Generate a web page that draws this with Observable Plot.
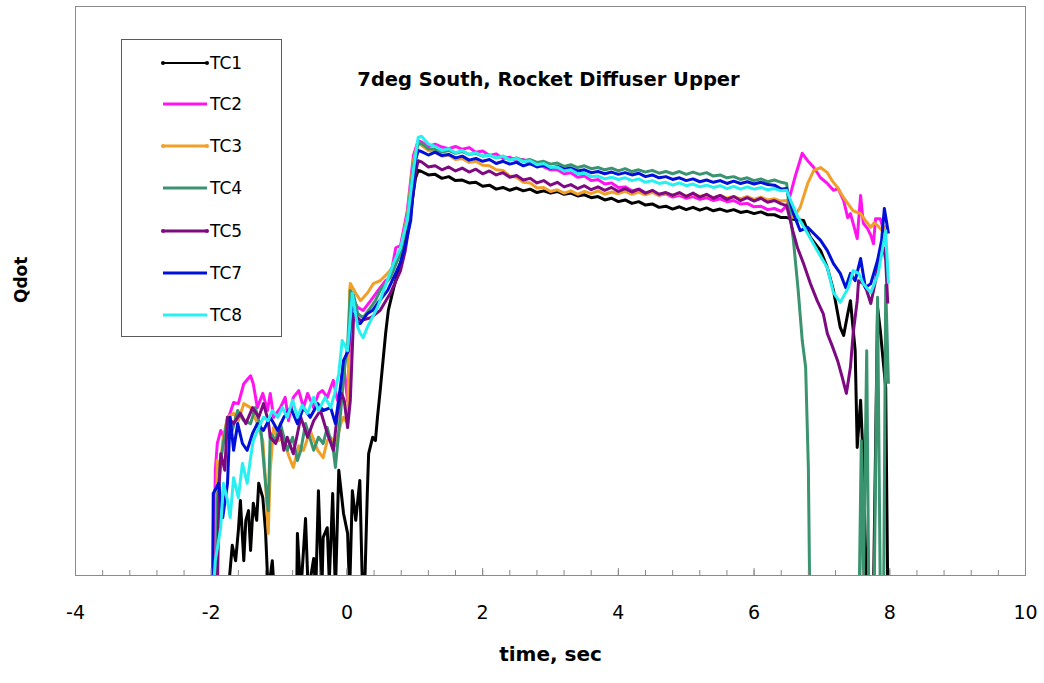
<!DOCTYPE html>
<html>
<head>
<meta charset="utf-8">
<script src="https://cdn.jsdelivr.net/npm/d3@7"></script>
<script src="https://cdn.jsdelivr.net/npm/@observablehq/plot@0.6"></script>
<style>
  body { margin: 0; background: #fff; }
  #wrap { position: relative; width: 1044px; height: 683px; }
  #legend { position: absolute; left: 121px; top: 39px; width: 161px; height: 298px;
            border: 1px solid #5a5a5a; background: #fff; box-sizing: border-box; }
</style>
</head>
<body>
<div id="wrap"><div id="chart"></div><div id="legend"></div></div>
<script>
// ---- texts & ticks ----
const chartTitle = "7deg South, Rocket Diffuser Upper";
const xLabel = "time, sec";
const yLabel = "Qdot";
const timeTicks = [-4, -2, 0, 2, 4, 6, 8, 10];
const seriesNames = ["TC1", "TC2", "TC3", "TC4", "TC5", "TC7", "TC8"];
const seriesColors = ["#000000", "#ff14f0", "#f0a028", "#3a9470", "#7e0a82", "#0010d8", "#28f0f0"];
const legendDots = [true, false, true, false, true, false, false];

// ---- shared plateau times (s) ----
const plateauTimes = [1.1,1.2,1.3,1.4,1.5,1.6,1.7,1.8,1.9,2.0,2.1,2.2,2.3,2.4,2.5,2.6,2.7,2.8,2.9,3.0,
  3.1,3.2,3.3,3.4,3.5,3.6,3.7,3.8,3.9,4.0,4.1,4.2,4.3,4.4,4.5,4.6,4.7,4.8,4.9,5.0,
  5.1,5.2,5.3,5.4,5.5,5.6,5.7,5.8,5.9,6.0,6.1,6.2,6.3,6.4];

// ---- TC1 ----
const tc1Left = [[-1.75,-3],[-1.69,5.3],[-1.64,2.6],[-1.60,7.9],[-1.57,13.2],[-1.52,2.6],[-1.49,9.7],[-1.45,11.4],
  [-1.42,4.4],[-1.38,12.7],[-1.33,9.7],[-1.30,16.2],[-1.24,13.7],[-1.20,7.9],[-1.16,-3],[-1.10,2.6],[-1.07,-3],
  [-0.74,-3],[-0.73,7.4],[-0.68,-3],[-0.61,10.0],[-0.57,-3],[-0.49,3.0],[-0.46,-3],[-0.42,14.9],[-0.37,-3],
  [-0.35,6.7],[-0.29,8.4],[-0.26,-1],[-0.21,14.4],[-0.17,-3],[-0.12,18.5],[-0.05,10.9],[0.01,7.4],[0.04,-3],
  [0.08,14.9],[0.13,9.7],[0.19,16.7],[0.23,-3],[0.26,-3],[0.30,14.4],[0.32,21.4],[0.38,24.3],[0.42,23.7],
  [0.45,27.8],[0.49,32.5],[0.57,42.5],[0.61,46.6],[0.69,50.6],[0.76,53.6],[0.83,56.6],[0.94,64.1],[1.01,69.8],[1.05,71.2]];
const tc1Plateau = [71.0,70.4,70.5,69.8,70.1,69.4,69.5,69.0,69.1,68.4,68.6,67.9,68.2,67.7,68.1,67.6,67.9,67.3,67.6,67.2,
  67.5,67.0,67.2,66.7,66.9,66.4,66.6,66.0,66.3,65.7,66.0,65.4,65.7,65.1,65.3,64.7,64.9,64.4,64.8,64.3,
  64.7,64.2,64.6,64.1,64.4,64.0,64.3,63.8,64.0,63.6,63.9,63.4,63.4,62.9];
const tc1Right = [[6.48,62.9],[6.58,62.6],[6.73,62.4],[6.83,59.4],[6.98,57.1],[7.08,54.1],[7.17,50.1],[7.27,43.6],
  [7.32,42.2],[7.38,46.0],[7.42,48.3],[7.49,39.5],[7.52,22.5],[7.57,30.8],[7.60,22.5],[7.66,-3],[7.76,-3],
  [7.82,47.1],[7.86,43.1],[7.94,33.0],[7.97,-3]];

// ---- TC2 ----
const tc2Left = [[-1.96,-3],[-1.94,18.5],[-1.91,23.2],[-1.86,25.5],[-1.79,23.7],[-1.76,27.2],[-1.67,30.4],[-1.60,30.2],
  [-1.52,33.7],[-1.42,35.1],[-1.38,33.7],[-1.32,29.5],[-1.24,32.0],[-1.17,29.0],[-1.13,32.0],[-1.08,27.8],
  [-0.98,29.5],[-0.91,31.3],[-0.86,27.2],[-0.79,31.3],[-0.71,32.5],[-0.64,29.5],[-0.58,32.0],[-0.49,29.5],
  [-0.42,32.0],[-0.36,32.5],[-0.29,31.3],[-0.24,33.0],[-0.20,34.3],[-0.14,30.8],[-0.09,32.5],[-0.05,37.3],
  [0.01,30.6],[0.05,44.8],[0.10,48.3],[0.16,47.1],[0.24,46.6],[0.35,48.3],[0.49,50.6],[0.57,51.8],[0.64,52.4],
  [0.72,57.6],[0.79,58.0],[0.89,64.1],[0.98,73.8],[1.05,76.4]];
const tc2Plateau = [76.2,75.4,75.8,75.3,75.0,75.4,74.9,75.2,74.4,74.6,73.8,74.1,73.3,73.5,72.8,73.1,72.3,72.4,71.8,71.3,
  71.3,70.6,70.8,70.0,70.2,69.4,69.6,68.8,69.0,68.2,68.3,67.6,67.9,67.2,67.4,66.8,67.1,66.5,66.8,66.3,
  66.6,66.1,66.4,65.9,66.2,65.7,65.9,65.3,65.4,64.8,64.9,64.3,64.5,64.0];
const tc2Right = [[6.48,65.0],[6.51,65.9],[6.61,70.3],[6.71,74.2],[6.79,72.9],[6.88,71.7],[6.98,69.9],[7.08,68.9],
  [7.17,67.7],[7.24,68.0],[7.32,65.9],[7.38,62.9],[7.42,63.6],[7.46,61.9],[7.52,59.2],[7.57,66.8],[7.61,61.9],
  [7.67,61.0],[7.72,59.8],[7.76,58.3],[7.79,62.7],[7.86,62.7],[7.91,60.6],[7.98,60.6]];

// ---- TC3 ----
const tc3Left = [[-1.94,-3],[-1.91,20.2],[-1.88,16.7],[-1.83,23.7],[-1.76,27.8],[-1.67,28.5],[-1.60,27.2],[-1.52,30.2],
  [-1.42,29.5],[-1.32,26.7],[-1.24,23.7],[-1.20,16.7],[-1.16,7.4],[-1.13,18.5],[-1.08,26.0],[-1.01,23.7],
  [-0.93,24.3],[-0.86,21.1],[-0.79,19.0],[-0.71,22.8],[-0.64,22.0],[-0.54,25.5],[-0.43,22.0],[-0.35,20.7],
  [-0.29,23.7],[-0.24,24.3],[-0.17,22.8],[-0.09,26.7],[-0.05,27.8],[0.01,26.7],[0.04,50.1],[0.05,51.3],
  [0.13,49.6],[0.20,48.3],[0.30,49.6],[0.39,51.3],[0.49,51.8],[0.60,53.1],[0.69,54.5],[0.79,57.1],[0.89,63.3],
  [0.98,72.9],[1.05,76.1]];
const tc3Plateau = [75.6,74.7,74.4,73.7,73.9,73.1,73.3,72.6,72.8,72.1,72.0,71.3,71.2,70.2,70.0,69.1,69.0,68.1,68.2,67.5,
  67.8,67.2,67.6,67.0,67.5,67.1,67.6,67.0,67.4,67.1,67.5,67.0,67.4,66.9,67.4,66.8,67.2,66.8,67.1,66.7,
  67.0,66.6,66.9,66.4,66.8,66.3,66.6,66.2,66.6,66.1,66.5,66.0,66.2,65.8];
const tc3Right = [[6.48,65.9],[6.54,65.0],[6.58,62.9],[6.68,64.7],[6.79,68.9],[6.88,71.2],[6.98,71.7],[7.08,70.8],
  [7.15,69.4],[7.23,68.2],[7.32,66.4],[7.38,65.4],[7.46,64.1],[7.57,63.6],[7.64,62.4],[7.72,61.2],[7.77,62.0],
  [7.82,61.5],[7.89,60.6],[7.95,61.5]];

// ---- TC4 ----
const tc4Left = [[-1.93,-3],[-1.91,13.2],[-1.86,20.2],[-1.76,27.8],[-1.69,25.5],[-1.61,29.0],[-1.52,27.2],[-1.42,26.7],
  [-1.35,29.5],[-1.27,26.0],[-1.20,16.2],[-1.16,11.4],[-1.13,25.0],[-1.05,23.7],[-0.98,26.7],[-0.88,22.0],
  [-0.80,24.3],[-0.73,20.2],[-0.68,22.0],[-0.61,26.7],[-0.49,22.0],[-0.42,24.3],[-0.35,23.2],[-0.29,26.0],
  [-0.20,22.0],[-0.17,19.0],[-0.09,29.0],[-0.04,36.0],[0.01,40.4],[0.05,50.1],[0.10,49.2],[0.16,46.0],
  [0.24,45.3],[0.35,47.1],[0.42,48.3],[0.49,50.1],[0.64,52.4],[0.79,56.6],[0.89,62.7],[0.98,72.1],[1.05,75.9]];
const tc4Plateau = [75.9,75.0,74.9,74.4,74.7,74.2,74.5,74.0,74.2,73.7,73.9,73.4,73.7,73.1,73.4,72.9,73.1,72.6,72.8,72.3,
  72.5,71.9,72.2,71.7,72.0,71.5,71.7,71.3,71.6,71.1,71.5,71.0,71.3,70.9,71.2,70.7,71.0,70.6,71.0,70.5,
  70.9,70.5,70.8,70.2,70.4,69.9,70.1,69.6,69.9,69.4,69.7,69.2,69.5,69.1];
const tc4Right = [[6.48,68.9],[6.51,65.4],[6.58,58.9],[6.65,50.1],[6.71,41.3],[6.76,36.6],[6.80,19.0],[6.82,-3],
  [7.55,-3],[7.58,23.7],[7.61,-3],[7.66,39.5],[7.69,-3],[7.77,-3],[7.82,48.9],[7.86,-3],[7.91,-3],
  [7.94,51.0],[7.98,33.7]];

// ---- TC5 ----
const tc5Left = [[-1.91,-3],[-1.88,16.7],[-1.86,21.4],[-1.80,18.5],[-1.76,27.8],[-1.67,26.7],[-1.57,28.5],[-1.49,26.7],
  [-1.39,29.5],[-1.30,27.8],[-1.23,30.2],[-1.16,27.2],[-1.13,24.3],[-1.05,23.2],[-0.98,25.5],[-0.93,22.0],
  [-0.88,24.3],[-0.79,21.4],[-0.68,27.8],[-0.58,24.3],[-0.49,27.2],[-0.39,29.0],[-0.29,25.0],[-0.20,22.0],
  [-0.14,28.5],[-0.08,32.0],[-0.04,30.8],[0.01,26.0],[0.05,30.8],[0.10,46.0],[0.20,44.8],[0.35,45.3],
  [0.49,46.6],[0.64,49.6],[0.79,53.6],[0.86,57.1],[0.94,63.3],[1.01,70.8],[1.05,72.9]];
const tc5Plateau = [72.7,71.8,72.0,71.3,71.8,71.1,71.6,70.9,71.4,70.6,71.1,70.4,70.8,70.0,70.3,69.5,69.8,69.0,69.4,68.6,
  69.1,68.3,68.7,68.0,68.5,67.8,68.3,67.7,68.2,67.5,68.0,67.4,67.9,67.2,67.7,67.0,67.3,66.8,67.3,66.6,
  67.2,66.5,67.0,66.3,66.8,66.1,66.6,65.9,66.4,65.8,66.3,65.6,65.9,65.3];
const tc5Right = [[6.48,65.0],[6.57,60.6],[6.64,57.6],[6.73,54.8],[6.83,51.3],[6.93,48.3],[7.02,46.0],[7.08,42.5],
  [7.15,40.4],[7.23,37.8],[7.30,34.8],[7.36,32.0],[7.42,36.6],[7.46,42.5],[7.52,48.3],[7.54,51.8],[7.61,51.3],
  [7.66,50.1],[7.72,47.8],[7.79,51.8],[7.83,54.8],[7.91,57.6],[7.94,55.4],[7.97,47.8]];

// ---- TC7 ----
const tc7Left = [[-1.98,-3],[-1.97,14.4],[-1.89,16.2],[-1.83,10.2],[-1.76,16.2],[-1.72,27.8],[-1.67,22.0],[-1.61,26.7],
  [-1.54,23.2],[-1.47,22.0],[-1.39,25.0],[-1.32,26.7],[-1.23,25.5],[-1.13,27.8],[-1.02,25.5],[-0.93,27.8],
  [-0.83,29.5],[-0.73,26.7],[-0.64,29.5],[-0.54,27.8],[-0.43,30.2],[-0.35,29.0],[-0.24,29.5],[-0.17,26.7],
  [-0.09,33.7],[-0.05,37.8],[0.02,39.5],[0.08,48.9],[0.16,44.3],[0.20,44.3],[0.30,46.0],[0.38,46.6],
  [0.45,47.8],[0.54,49.2],[0.60,50.1],[0.69,52.4],[0.79,55.0],[0.86,58.0],[0.94,62.4],[1.01,72.9],[1.05,74.7]];
const tc7Plateau = [74.5,73.9,74.4,73.8,74.0,73.4,73.7,73.0,73.3,72.8,73.1,72.4,72.8,72.3,72.6,72.0,72.4,71.8,72.1,71.6,
  71.9,71.4,71.6,71.1,71.3,70.8,71.0,70.6,70.9,70.5,70.8,70.4,70.7,70.1,70.4,69.9,70.1,69.6,69.9,69.4,
  69.7,69.2,69.5,69.1,69.4,68.9,69.3,68.9,69.2,68.8,69.1,68.7,68.6,67.9];
const tc7Right = [[6.48,68.0],[6.58,63.6],[6.68,60.6],[6.79,61.2],[6.88,60.1],[6.98,58.9],[7.08,57.1],[7.17,54.8],
  [7.27,53.1],[7.35,50.6],[7.42,53.1],[7.49,51.8],[7.57,55.7],[7.64,50.6],[7.72,51.3],[7.82,55.4],[7.88,58.9],
  [7.92,64.5],[7.98,60.1]];

// ---- TC8 ----
const tc8Left = [[-1.97,-3],[-1.94,2.6],[-1.89,6.2],[-1.86,8.4],[-1.82,16.2],[-1.76,13.2],[-1.72,10.2],[-1.67,17.2],
  [-1.60,13.7],[-1.54,19.7],[-1.47,16.2],[-1.42,20.7],[-1.38,23.7],[-1.30,26.0],[-1.23,27.8],[-1.16,27.2],
  [-1.10,29.0],[-1.02,27.8],[-0.95,29.5],[-0.88,27.8],[-0.80,30.8],[-0.73,27.8],[-0.66,29.9],[-0.58,28.5],
  [-0.49,31.3],[-0.42,29.0],[-0.32,31.3],[-0.24,29.5],[-0.18,32.0],[-0.12,35.5],[-0.07,41.3],[0.01,39.5],
  [0.08,49.6],[0.16,43.6],[0.20,42.5],[0.24,41.8],[0.30,43.6],[0.35,44.8],[0.45,47.1],[0.54,50.1],[0.57,51.0],
  [0.69,55.0],[0.79,57.6],[0.89,62.4],[0.98,71.2],[1.05,77.0]];
const tc8Plateau = [77.2,75.8,75.4,74.7,75.0,74.3,74.7,74.0,74.3,73.7,73.9,73.4,73.7,73.0,73.3,72.7,72.9,72.2,72.4,71.7,
  71.8,71.1,71.3,70.6,70.7,70.1,70.2,69.7,70.0,69.6,69.9,69.4,69.7,69.1,69.4,68.9,69.1,68.6,69.0,68.5,
  68.8,68.3,68.6,68.2,68.5,68.0,68.4,67.9,68.3,67.9,68.2,67.8,68.0,67.6];
const tc8Right = [[6.48,67.7],[6.54,65.9],[6.65,62.9],[6.79,60.1],[6.93,57.1],[7.08,54.1],[7.17,49.7],[7.27,48.0],
  [7.39,50.6],[7.46,53.6],[7.54,53.1],[7.61,51.3],[7.72,49.7],[7.83,53.1],[7.94,60.6],[7.98,51.3]];

// ---- assemble ----
const parts = [
  [tc1Left, tc1Plateau, tc1Right], [tc2Left, tc2Plateau, tc2Right], [tc3Left, tc3Plateau, tc3Right],
  [tc4Left, tc4Plateau, tc4Right], [tc5Left, tc5Plateau, tc5Right], [tc7Left, tc7Plateau, tc7Right],
  [tc8Left, tc8Plateau, tc8Right]
];
const seriesRows = parts.map(([left, plateau, right], k) => {
  const mid = plateau.slice(0, plateauTimes.length).map((q, i) => [plateauTimes[i], q]);
  return [...left, ...mid, ...right].map(([t, q]) => ({series: seriesNames[k], t, q}));
});

const W = 1044, H = 683, mL = 75, mR = 19, mT = 6, mB = 108;
const frameH = H - mT - mB;
const minorTicks = d3.range(-4, 10.0001, 0.4);
const gray = "#8a8a8a";

const lineMarks = seriesRows.map((rows, k) =>
  Plot.line(rows, {x: "t", y: "q", stroke: seriesColors[k], strokeWidth: 3, clip: true,
                   strokeLinejoin: "round", strokeLinecap: "butt"}));

const chart = Plot.plot({
  width: W, height: H,
  marginLeft: mL, marginRight: mR, marginTop: mT, marginBottom: mB,
  style: {background: "#fff", fontFamily: "DejaVu Sans", fontSize: "19px", color: "#000"},
  x: {domain: [-4, 10], ticks: timeTicks, tickSize: 0, tickPadding: 30, label: null,
      tickFormat: d => String(d)},
  y: {domain: [0, 100], axis: null},
  marks: [
    ...lineMarks,
    Plot.frame({stroke: gray}),
    Plot.tickX(minorTicks, {x: d => d, stroke: gray, insetTop: frameH - 5}),
    Plot.tickX(timeTicks, {x: d => d, stroke: gray, insetTop: frameH - 7}),
    Plot.text([chartTitle], {text: d => d, frameAnchor: "top", dx: -2, dy: 66,
      fontSize: 19.5, fontWeight: "bold", fontFamily: "DejaVu Sans", fill: "#000"}),
    Plot.text([xLabel], {text: d => d, frameAnchor: "bottom", dy: 85,
      fontSize: 20, fontWeight: "bold", fontFamily: "DejaVu Sans", fill: "#000"}),
    Plot.text([yLabel], {text: d => d, frameAnchor: "left", dx: -54, dy: 12, rotate: -90,
      fontSize: 17, fontWeight: "bold", fontFamily: "DejaVu Sans", fill: "#000"})
  ]
});
document.getElementById("chart").appendChild(chart);

// ---- legend ----
const lg = d3.select("#legend").append("svg").attr("width", 159).attr("height", 296)
  .style("position", "absolute").style("left", "0px").style("top", "0px");
const legendY = [23, 64, 106, 148, 191, 233, 275];
seriesNames.forEach((name, i) => {
  const y = legendY[i];
  lg.append("line").attr("x1", 41).attr("x2", 85).attr("y1", y).attr("y2", y)
    .attr("stroke", seriesColors[i]).attr("stroke-width", i === 0 ? 2 : 3);
  if (legendDots[i]) {
    [41, 85].forEach(cx => lg.append("circle").attr("cx", cx).attr("cy", y).attr("r", 2)
      .attr("fill", seriesColors[i]));
  }
  lg.append("text").attr("x", 88).attr("y", y).attr("dominant-baseline", "central")
    .attr("font-family", "DejaVu Sans").attr("font-size", 17).attr("fill", "#000").text(name);
});
</script>
</body>
</html>
